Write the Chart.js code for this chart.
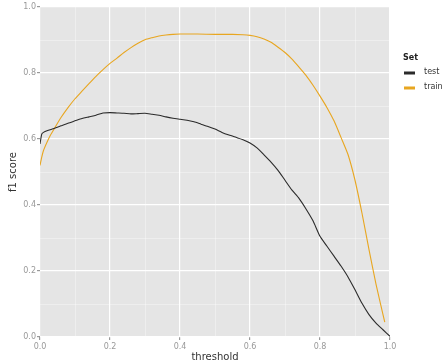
<!DOCTYPE html>
<html>
<head>
<meta charset="utf-8">
<script src="https://cdn.jsdelivr.net/npm/chart.js@4/dist/chart.umd.min.js"></script>
<style>
html,body{margin:0;padding:0;background:#fff;}
#wrap{width:447px;height:364px;position:relative;}
</style>
</head>
<body>
<div id="wrap"><canvas id="c" width="447" height="364"></canvas></div>
<script>
// ---- data ----
const seriesNames = ["test", "train"];
const thresholdsTest = [0.000,0.005,0.01,0.02,0.04,0.06,0.08,0.10,0.12,0.14,0.16,0.18,0.20,0.22,0.24,0.26,0.28,0.30,0.32,0.34,0.36,0.38,0.40,0.42,0.44,0.46,0.48,0.50,0.52,0.54,0.56,0.58,0.60,0.62,0.64,0.66,0.68,0.70,0.72,0.74,0.76,0.78,0.80,0.82,0.84,0.86,0.88,0.90,0.92,0.94,0.96,0.98,1.00];
const testF1 = [0.585,0.615,0.620,0.625,0.632,0.640,0.648,0.655,0.662,0.667,0.672,0.679,0.680,0.679,0.678,0.676,0.677,0.678,0.675,0.672,0.667,0.663,0.660,0.657,0.652,0.645,0.638,0.630,0.620,0.612,0.605,0.598,0.588,0.573,0.552,0.530,0.505,0.475,0.445,0.420,0.388,0.352,0.305,0.275,0.245,0.215,0.182,0.143,0.102,0.068,0.042,0.022,0.002];
const thresholdsTrain = [0.000,0.005,0.01,0.02,0.03,0.04,0.06,0.08,0.10,0.12,0.14,0.16,0.18,0.20,0.22,0.24,0.26,0.28,0.30,0.32,0.34,0.36,0.38,0.40,0.45,0.50,0.55,0.58,0.60,0.62,0.64,0.66,0.68,0.70,0.72,0.74,0.76,0.78,0.80,0.82,0.84,0.86,0.88,0.90,0.92,0.94,0.96,0.98,0.985];
const trainF1 = [0.520,0.545,0.565,0.590,0.612,0.630,0.665,0.695,0.722,0.745,0.768,0.790,0.810,0.829,0.845,0.862,0.877,0.890,0.901,0.907,0.912,0.915,0.917,0.918,0.918,0.917,0.917,0.916,0.914,0.910,0.903,0.893,0.878,0.862,0.842,0.818,0.793,0.763,0.730,0.695,0.655,0.605,0.553,0.475,0.375,0.265,0.160,0.068,0.045];
const axisTicks = [0.0, 0.2, 0.4, 0.6, 0.8, 1.0];
const minorTicks = [0.1, 0.3, 0.5, 0.7, 0.9];
const colors = ["#2b2b2b", "#E8A620"];

function pts(xs, ys){ return xs.map((x,i)=>({x:x, y:ys[i]})); }

const panelPlugin = {
  id: 'panel',
  beforeDraw(chart){
    const {ctx, chartArea:a, scales} = chart;
    ctx.save();
    ctx.fillStyle = '#E5E5E5';
    ctx.fillRect(a.left, a.top, a.right-a.left, a.bottom-a.top);
    ctx.strokeStyle = 'rgba(255,255,255,0.35)';
    ctx.lineWidth = 1;
    minorTicks.forEach(v=>{
      const x = Math.round(scales.x.getPixelForValue(v))+0.5;
      ctx.beginPath(); ctx.moveTo(x,a.top); ctx.lineTo(x,a.bottom); ctx.stroke();
      const y = Math.round(scales.y.getPixelForValue(v))+0.5;
      ctx.beginPath(); ctx.moveTo(a.left,y); ctx.lineTo(a.right,y); ctx.stroke();
    });
    ctx.restore();
  },
  afterDraw(chart){
    const ctx = chart.ctx;
    ctx.save();
    ctx.fillStyle = '#222';
    ctx.font = 'bold 8px "DejaVu Sans"';
    ctx.textBaseline = 'middle';
    ctx.textAlign = 'left';
    ctx.fillText('Set', 403, 58);
    ctx.font = '8px "DejaVu Sans"';
    chart.data.datasets.forEach((ds,i)=>{
      const y = 73 + i*15;
      ctx.fillStyle = ds.borderColor;
      ctx.fillRect(404, y-1.5, 11, 3);
      ctx.fillStyle = '#333';
      ctx.fillText(ds.label, 424, y-1.5);
    });
    ctx.restore();
  }
};

const tickFont = {family:'"DejaVu Sans"', size:8};
new Chart(document.getElementById('c'), {
  type: 'scatter',
  data: {
    datasets: seriesNames.map((name,i)=>({
      label: name,
      data: i===0 ? pts(thresholdsTest, testF1) : pts(thresholdsTrain, trainF1),
      showLine: true,
      borderColor: colors[i],
      backgroundColor: colors[i],
      borderWidth: 1.1,
      pointRadius: 0,
      tension: 0.2
    }))
  },
  options: {
    responsive: false,
    animation: false,
    layout: {padding: {top: 7, right: 57, left: 0, bottom: 0}},
    plugins: {legend: {display: false}, tooltip: {enabled: false}},
    scales: {
      x: {
        type: 'linear', min: 0, max: 1,
        afterFit(s){ s.height = 27; },
        afterBuildTicks(s){ s.ticks = axisTicks.map(v=>({value:v})); },
        grid: {color: '#FFFFFF', lineWidth: 1.2, tickLength: 3, tickColor: '#999', drawTicks: true},
        border: {display: false},
        ticks: {color: '#999', font: tickFont, padding: 2, maxRotation: 0, callback: v => v.toFixed(1)},
        title: {display: true, text: 'threshold', color: '#333', font: {family:'"DejaVu Sans"', size: 10}, padding: {top: 0, bottom: 1}}
      },
      y: {
        type: 'linear', min: 0, max: 1,
        afterFit(s){ s.width = 40; },
        afterBuildTicks(s){ s.ticks = axisTicks.map(v=>({value:v})); },
        grid: {color: '#FFFFFF', lineWidth: 1.2, tickLength: 3, tickColor: '#999', drawTicks: true},
        border: {display: false},
        ticks: {color: '#999', font: tickFont, padding: 1, callback: v => v.toFixed(1)},
        title: {display: true, text: 'f1 score', color: '#333', font: {family:'"DejaVu Sans"', size: 10}, padding: {top: 7, bottom: 0}}
      }
    }
  },
  plugins: [panelPlugin]
});
</script>
</body>
</html>
